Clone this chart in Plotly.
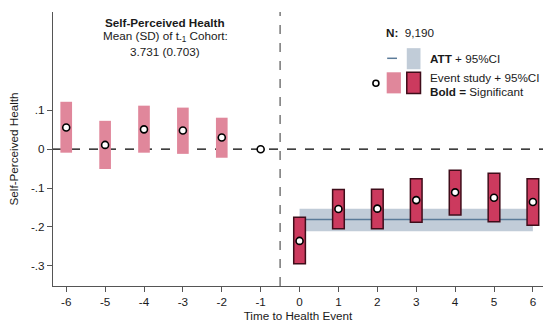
import plotly.graph_objects as go

# ---- data ----
pre_t = [-6, -5, -4, -3, -2]
pre_est = [0.056, 0.011, 0.051, 0.048, 0.030]
pre_lo = [-0.009, -0.051, -0.009, -0.012, -0.022]
pre_hi = [0.122, 0.073, 0.112, 0.107, 0.081]

ref_t = [-1]
ref_est = [0.0]

post_t = [0, 1, 2, 3, 4, 5, 6]
post_est = [-0.236, -0.154, -0.153, -0.131, -0.111, -0.125, -0.136]
post_lo = [-0.295, -0.205, -0.205, -0.188, -0.169, -0.187, -0.196]
post_hi = [-0.175, -0.104, -0.103, -0.076, -0.054, -0.062, -0.076]

att_start, att_end = 0, 6
att_est = -0.181
att_lo = -0.211
att_hi = -0.153

x_ticks = [-6, -5, -4, -3, -2, -1, 0, 1, 2, 3, 4, 5, 6]
y_ticks = [0.1, 0.0, -0.1, -0.2, -0.3]
y_tick_labels = [".1", "0", "-.1", "-.2", "-.3"]

PINK = "#e0879b"
CRIMSON = "#cc3a5e"
BORDER = "#3f0d1a"
BAND = "#c1ccd8"
ATTLINE = "#5b7b99"
FONT = "Liberation Sans"
FS = 11.7
TXT = "#1a1a1a"

fig = go.Figure()

# ATT band + line (main axes, drawn beneath the overlay axes)
fig.add_trace(go.Scatter(
    x=[att_start, att_end, att_end, att_start, att_start],
    y=[att_lo, att_lo, att_hi, att_hi, att_lo],
    fill="toself", fillcolor=BAND, mode="none", hoverinfo="skip", showlegend=False,
    xaxis="x", yaxis="y"))
fig.add_trace(go.Scatter(
    x=[att_start, att_end], y=[att_est, att_est], mode="lines",
    line=dict(color=ATTLINE, width=1.5), showlegend=False, xaxis="x", yaxis="y"))

# event study bars on overlay axes
fig.add_trace(go.Bar(
    x=pre_t, base=pre_lo, y=[h - l for h, l in zip(pre_hi, pre_lo)],
    width=0.3, marker=dict(color=PINK, line=dict(width=0)),
    showlegend=False, xaxis="x2", yaxis="y2"))
fig.add_trace(go.Bar(
    x=post_t, base=post_lo, y=[h - l for h, l in zip(post_hi, post_lo)],
    width=0.3, marker=dict(color=CRIMSON, line=dict(color=BORDER, width=1.5)),
    showlegend=False, xaxis="x2", yaxis="y2"))
fig.add_trace(go.Scatter(
    x=pre_t + ref_t + post_t, y=pre_est + ref_est + post_est, mode="markers",
    marker=dict(symbol="circle", size=7, color="white", line=dict(color="black", width=1.6)),
    showlegend=False, xaxis="x2", yaxis="y2"))

xr = [-6.34, 6.26]
yr = [-0.352, 0.353]

axis_common = dict(showgrid=False, zeroline=False)
fig.update_layout(
    width=543, height=322,
    margin=dict(l=53, r=0, t=12, b=36),
    paper_bgcolor="white", plot_bgcolor="white",
    font=dict(family=FONT, size=FS, color=TXT),
    barmode="overlay",
    xaxis=dict(range=xr, tickvals=x_ticks, ticktext=[str(v) for v in x_ticks],
               showline=True, linecolor="#555", linewidth=1.2,
               ticks="outside", ticklen=5, tickcolor="#555",
               title=dict(text="Time to Health Event", font=dict(size=FS), standoff=4),
               tickfont=dict(size=FS), **axis_common),
    yaxis=dict(range=yr, tickvals=y_ticks, ticktext=y_tick_labels,
               showline=True, linecolor="#555", linewidth=1.2,
               ticks="outside", ticklen=5, tickcolor="#555",
               title=dict(text="Self-Perceived Health", font=dict(size=FS), standoff=9),
               tickfont=dict(size=FS), **axis_common),
    xaxis2=dict(range=xr, overlaying="x", visible=False, **axis_common),
    yaxis2=dict(range=yr, overlaying="y", visible=False, **axis_common),
)

# reference lines
fig.add_shape(type="line", xref="paper", yref="y", x0=0, x1=1, y0=0, y1=0,
              line=dict(color="black", width=1.2, dash="dash"), layer="below")
fig.add_shape(type="line", xref="x", yref="paper", x0=-0.5, x1=-0.5, y0=0, y1=1,
              line=dict(color="#777", width=1.5, dash="dash"), layer="below")


def py(pix):
    """pixel row (from top of page) -> paper y"""
    return (286 - pix) / 274


def note(text, x, y_pix, xanchor="left"):
    fig.add_annotation(xref="paper", yref="paper", x=x, y=py(y_pix), xanchor=xanchor, yanchor="middle",
                       showarrow=False, font=dict(size=FS, color=TXT), text=text)


# title block
note("<b>Self-Perceived Health</b>", 0.229, 22.5, "center")
note("Mean (SD) of t<sub>-1</sub> Cohort:", 0.229, 36.5, "center")
note("3.731 (0.703)", 0.229, 51, "center")

# legend block
note("<b>N:</b>  9,190", 0.676, 32)
fig.add_shape(type="line", xref="paper", yref="paper", x0=0.682, x1=0.702, y0=0.831, y1=0.831,
              line=dict(color=ATTLINE, width=1.5))
fig.add_shape(type="rect", xref="paper", yref="paper", x0=0.722, x1=0.750, y0=0.791, y1=0.868,
              fillcolor=BAND, line=dict(width=0))
note("<b>ATT</b> + 95%CI", 0.765, 58.3)
fig.add_shape(type="circle", xref="paper", yref="paper", xsizemode="pixel", ysizemode="pixel",
              xanchor=0.659, yanchor=0.74, x0=-3, x1=3, y0=-3, y1=3,
              fillcolor="white", line=dict(color="black", width=1.6))
fig.add_shape(type="rect", xref="paper", yref="paper", x0=0.681, x1=0.710, y0=0.703, y1=0.780,
              fillcolor=PINK, line=dict(width=0))
fig.add_shape(type="rect", xref="paper", yref="paper", x0=0.722, x1=0.750, y0=0.703, y1=0.780,
              fillcolor=CRIMSON, line=dict(color=BORDER, width=1.5))
note("Event study + 95%CI", 0.765, 77.5)
note("<b>Bold =</b> Significant", 0.765, 91.5)

fig.write_html("out.html", config={"displayModeBar": False},
               post_script="document.body.style.margin='0px';document.body.style.overflow='hidden';")
